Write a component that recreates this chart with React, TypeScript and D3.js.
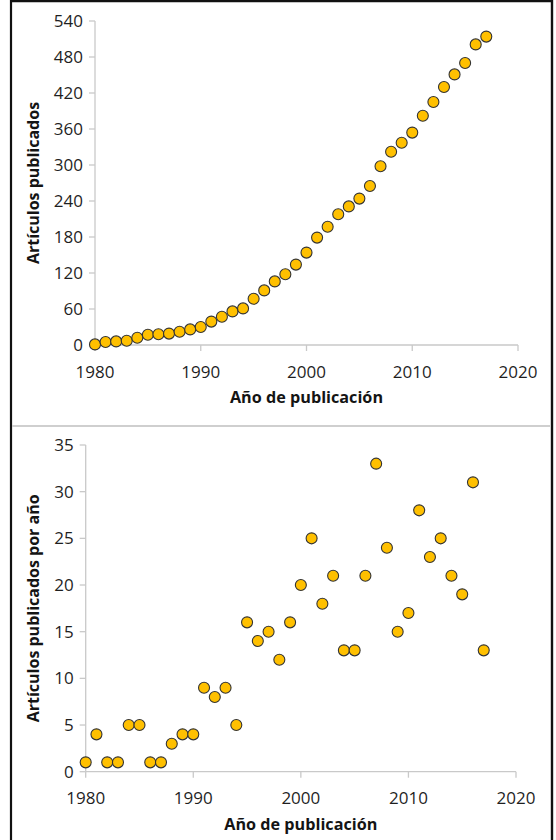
import React from "react";
import * as d3 from "d3";

const years = [
  1980, 1981, 1982, 1983, 1984, 1985, 1986, 1987, 1988, 1989,
  1990, 1991, 1992, 1993, 1994, 1995, 1996, 1997, 1998, 1999,
  2000, 2001, 2002, 2003, 2004, 2005, 2006, 2007, 2008, 2009,
  2010, 2011, 2012, 2013, 2014, 2015, 2016, 2017,
];
const cumulativeArticles = [
  1, 5, 6, 7, 12, 17, 18, 19, 22, 26,
  30, 39, 47, 56, 61, 77, 91, 106, 118, 134,
  154, 179, 197, 218, 231, 244, 265, 298, 322, 337,
  354, 382, 405, 430, 451, 470, 501, 514,
];
const articlesPerYear = [
  1, 4, 1, 1, 5, 5, 1, 1, 3, 4,
  4, 9, 8, 9, 5, 16, 14, 15, 12, 16,
  20, 25, 18, 21, 13, 13, 21, 33, 24, 15,
  17, 28, 23, 25, 21, 19, 31, 13,
];
const xTicks = [1980, 1990, 2000, 2010, 2020];
const yTicksTop = [0, 60, 120, 180, 240, 300, 360, 420, 480, 540];
const yTicksBottom = [0, 5, 10, 15, 20, 25, 30, 35];
const xTitle = "Año de publicación";
const yTitleTop = "Artículos publicados";
const yTitleBottom = "Artículos publicados por año";

const FONT = "'Open Sans', 'Noto Sans', sans-serif";
const AXIS = "#c9c9c9";
const TICK_TEXT = "#1f1f1f";
const TITLE_TEXT = "#141414";
const FILL = "#FFC000";
const STROKE = "#333333";

type PanelProps = {
  values: number[];
  yTicks: number[];
  yMax: number;
  x0: number;
  x1: number;
  y0: number;
  y1: number;
  yTitle: string;
};

function Panel({ values, yTicks, yMax, x0, x1, y0, y1, yTitle }: PanelProps) {
  const x = d3.scaleLinear().domain([1980, 2020]).range([x0, x1]);
  const y = d3.scaleLinear().domain([0, yMax]).range([y0, y1]);
  const midY = (y0 + y1) / 2;
  const midX = (x0 + x1) / 2;
  return (
    <g>
      <line x1={x0} x2={x0} y1={y1} y2={y0} stroke={AXIS} strokeWidth={1.3} />
      <line x1={x0} x2={x1} y1={y0} y2={y0} stroke={AXIS} strokeWidth={1.3} />
      {yTicks.map((t) => (
        <g key={"y" + t}>
          <line x1={x0 - 6} x2={x0} y1={y(t)} y2={y(t)} stroke={AXIS} strokeWidth={1.3} />
          <text
            x={x0 - 12}
            y={y(t)}
            dy="0.36em"
            textAnchor="end"
            fontFamily={FONT}
            fontSize={17}
            fill={TICK_TEXT}
          >
            {t}
          </text>
        </g>
      ))}
      {xTicks.map((t) => (
        <g key={"x" + t}>
          <line x1={x(t)} x2={x(t)} y1={y0} y2={y0 + 6} stroke={AXIS} strokeWidth={1.3} />
          <text
            x={x(t)}
            y={y0 + 26.5}
            dy="0.36em"
            textAnchor="middle"
            fontFamily={FONT}
            fontSize={17}
            fill={TICK_TEXT}
          >
            {t}
          </text>
        </g>
      ))}
      <text
        x={midX}
        y={y0 + 52.5}
        dy="0.36em"
        textAnchor="middle"
        fontFamily={FONT}
        fontWeight="bold"
        fontSize={16.2}
        fill={TITLE_TEXT}
      >
        {xTitle}
      </text>
      <text
        transform={`translate(33,${midY}) rotate(-90)`}
        dy="0.36em"
        textAnchor="middle"
        fontFamily={FONT}
        fontWeight="bold"
        fontSize={16}
        fill={TITLE_TEXT}
      >
        {yTitle}
      </text>
      {values.map((v, i) => (
        <circle
          key={i}
          cx={x(years[i])}
          cy={y(v)}
          r={5.5}
          fill={FILL}
          stroke={STROKE}
          strokeWidth={1.1}
        />
      ))}
    </g>
  );
}

export default function App() {
  return (
    <svg
      width={556}
      height={840}
      style={{ position: "absolute", left: 0, top: 0, background: "#fff" }}
    >
      <rect x={0} y={0} width={556} height={840} fill="#fff" />
      <line x1={11} x2={11} y1={0} y2={840} stroke="#111" strokeWidth={2.2} />
      <line x1={552} x2={552} y1={0} y2={840} stroke="#111" strokeWidth={2.4} />
      <line x1={10} x2={553} y1={1.2} y2={1.2} stroke="#111" strokeWidth={2.2} />
      <line x1={12} x2={551} y1={426} y2={426} stroke="#cfcfcf" strokeWidth={2.2} />
      <Panel
        values={cumulativeArticles}
        yTicks={yTicksTop}
        yMax={540}
        x0={95}
        x1={518}
        y0={345}
        y1={21}
        yTitle={yTitleTop}
      />
      <Panel
        values={articlesPerYear}
        yTicks={yTicksBottom}
        yMax={35}
        x0={85.7}
        x1={516}
        y0={771.7}
        y1={445}
        yTitle={yTitleBottom}
      />
    </svg>
  );
}
